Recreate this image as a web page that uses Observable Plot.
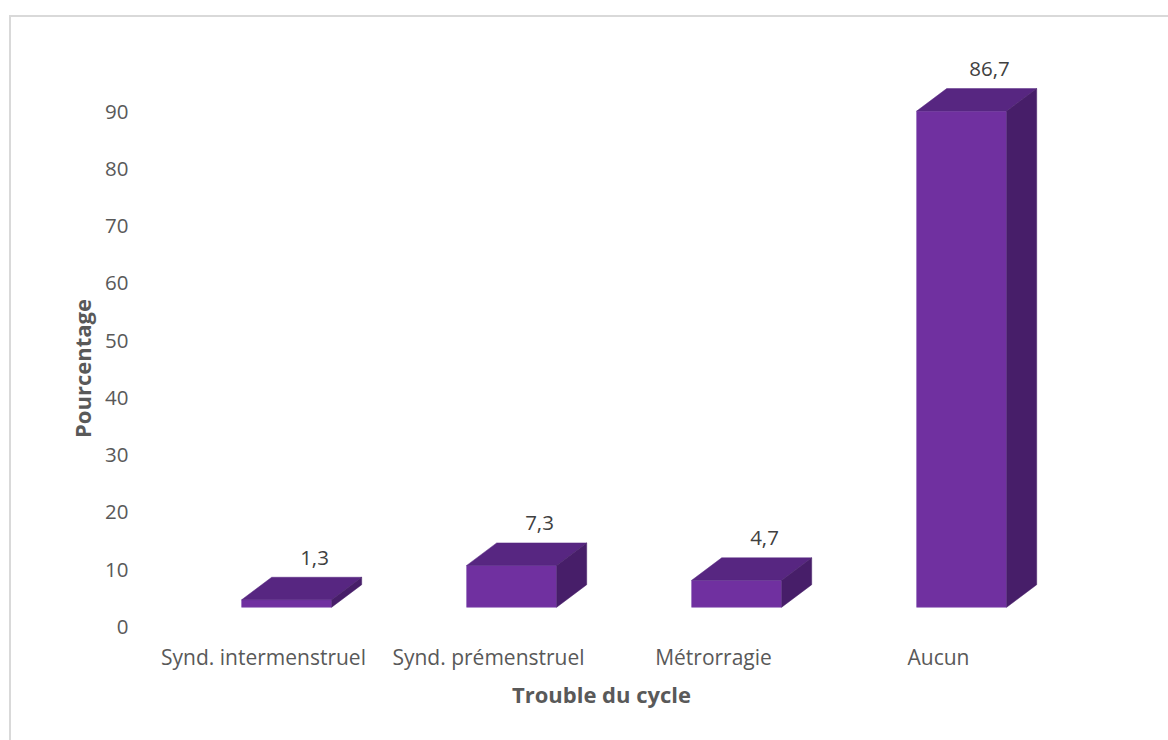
<!DOCTYPE html>
<html><head><meta charset="utf-8">
<script src="https://cdn.jsdelivr.net/npm/d3@7"></script>
<script src="https://cdn.jsdelivr.net/npm/@observablehq/plot@0.6"></script>
<style>
html,body{margin:0;padding:0;background:#fff;overflow:hidden;width:1168px;height:740px}
#chart{position:absolute;left:0;top:0}
#border{position:absolute;left:9px;top:15px;width:1300px;height:900px;border:2px solid #d9d9d9;box-sizing:border-box}
</style></head><body>
<div id="border"></div>
<div id="chart"></div>
<script>
const categories = ["Synd. intermenstruel", "Synd. prémenstruel", "Métrorragie", "Aucun"];
const values = [1.3, 7.3, 4.7, 86.7];
const valueLabels = ["1,3", "7,3", "4,7", "86,7"];
const yTicks = [0, 10, 20, 30, 40, 50, 60, 70, 80, 90];
const xTitle = "Trouble du cycle";
const yTitle = "Pourcentage";

const data = categories.map((c, i) => ({category: c, value: values[i], label: valueLabels[i]}));

const depthX = 30, depthY = -22.5;
const frontDx = 23.7, frontDy = -19.5;
const topColor = "#572681", sideColor = "#471e69", frontColor = "#7030a0";

function box3d(index, scales, vals, dimensions, context, next) {
  const g = next(index, scales, vals, dimensions, context);
  const bw = scales.x.bandwidth();
  const sel = d3.select(g);
  for (const i of index) {
    const x0 = vals.x[i], x1 = x0 + bw;
    const yb = vals.y1[i], yt = vals.y2[i];
    sel.append("path")
      .attr("d", `M${x0},${yt}L${x1},${yt}L${x1 + depthX},${yt + depthY}L${x0 + depthX},${yt + depthY}Z`)
      .attr("fill", topColor).attr("stroke", topColor).attr("stroke-width", 0.5);
    sel.append("path")
      .attr("d", `M${x1},${yt}L${x1 + depthX},${yt + depthY}L${x1 + depthX},${yb + depthY}L${x1},${yb}Z`)
      .attr("fill", sideColor).attr("stroke", sideColor).attr("stroke-width", 0.5);
  }
  return g;
}

const font = "'Open Sans', 'DejaVu Sans', sans-serif";
const fs = 20.5;

const chart = Plot.plot({
  width: 1168,
  height: 740,
  marginLeft: 131,
  marginRight: 50,
  marginTop: 96,
  marginBottom: 100,
  style: {fontFamily: font, fontSize: fs + "px", background: "transparent"},
  x: {domain: categories, range: [83, 1118], padding: 0.6, axis: null},
  y: {domain: [0, 90], range: [626.7, 111.7], axis: null},
  marks: [
    Plot.axisY(yTicks, {tickSize: 0, tickPadding: 3, fontSize: fs, color: "#595959", label: null}),
    Plot.axisX({tickSize: 0, tickPadding: 10, fontSize: 21, color: "#595959", label: null}),
    Plot.barY(data, {
      x: "category", y: "value", fill: frontColor,
      stroke: "#8455b0", strokeWidth: 0.6,
      dx: frontDx, dy: frontDy,
      render: box3d
    }),
    Plot.text(data, {
      x: "category", y: "value", text: "label",
      dx: 51, dy: frontDy + depthY - 19.5,
      fill: "#404040", fontSize: fs
    }),
    Plot.text([xTitle], {
      frameAnchor: "bottom", lineAnchor: "middle", textAnchor: "middle",
      text: d => d, dx: -23.5, dy: 55,
      fontWeight: "bold", fontSize: 22, fill: "#595959"
    }),
    Plot.text([yTitle], {
      frameAnchor: "left", textAnchor: "middle", lineAnchor: "middle",
      text: d => d, rotate: -90, dx: -48,
      fontWeight: "bold", fontSize: 22, fill: "#595959"
    })
  ]
});
document.getElementById("chart").appendChild(chart);
</script>
</body></html>
